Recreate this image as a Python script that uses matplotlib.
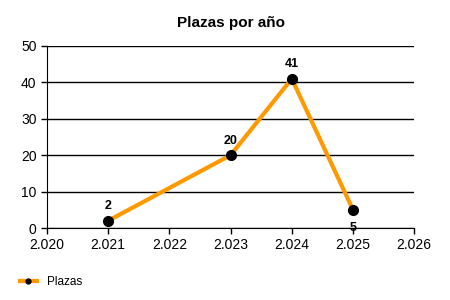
import matplotlib.pyplot as plt
from matplotlib.ticker import FuncFormatter

plt.rcParams['font.family'] = ['Liberation Sans', 'DejaVu Sans']

years = [2021, 2023, 2024, 2025]
plazas = [2, 20, 41, 5]
label_below = [False, False, False, True]

fig = plt.figure(figsize=(4.5, 3), dpi=100)
ax = fig.add_axes([0.1044, 0.24, 0.816, 0.6067])

ax.plot(years, plazas, color='#FF9900', linewidth=3, marker='o',
        markersize=7, markerfacecolor='black', markeredgecolor='black',
        label='Plazas', zorder=3)

for x, y, below in zip(years, plazas, label_below):
    ax.annotate(str(y), (x, y), xytext=(0, -13 if below else 6),
                textcoords='offset points', ha='center',
                va='center' if below else 'bottom',
                fontsize=9, fontweight='bold', zorder=4)

ax.set_xlim(2020, 2026)
ax.set_ylim(0, 50)
ax.set_xticks(range(2020, 2027))
ax.set_yticks(range(0, 51, 10))
ax.xaxis.set_major_formatter(FuncFormatter(lambda v, p: f"{int(round(v)):,}".replace(',', '.')))
ax.yaxis.grid(True, color='black', linewidth=1)
ax.set_axisbelow(True)
for s in ['top', 'right']:
    ax.spines[s].set_visible(False)
ax.tick_params(labelsize=10, length=4, width=1, colors='black')

ax.set_title('Plazas por año', fontsize=11, fontweight='bold', pad=14)

fig.legend(loc='lower left', bbox_to_anchor=(0.02, 0.005), frameon=False,
           fontsize=8.5, handlelength=1.5, markerscale=0.5)

fig.savefig('out.png', dpi=100)
